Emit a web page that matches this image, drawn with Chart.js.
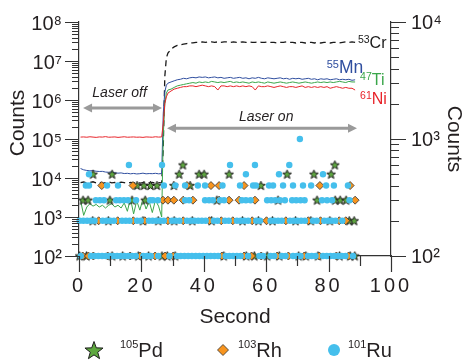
<!DOCTYPE html>
<html>
<head>
<meta charset="utf-8">
<title>LA-ICP-MS time-resolved signal</title>
<script src="https://cdn.jsdelivr.net/npm/chart.js@4.4.1/dist/chart.umd.min.js"></script>
<style>
html, body { margin: 0; padding: 0; background: #fff; }
canvas { display: block; }
</style>
</head>
<body>
<canvas id="chart" width="464" height="360"></canvas>
<script>
// ---- Major-element traces (left axis, counts) ----
const seconds = [
  0.5,1.5,2.5,3.5,4.5,5.5,6.5,7.5,8.5,9.5,10.5,11.5,12.5,13.5,14.5,15.5,16.5,17.5,18.5,19.5,20.5,21.5,22.5,23.5,24.5,25.5,26.5,
  27.0,27.5,28.0,28.5,
  29.5,30.5,31.5,32.5,33.5,34.5,35.5,36.5,37.5,38.5,
  39.5,40.5,41.5,42.5,43.5,44.5,45.5,46.5,47.5,48.5,
  49.5,50.5,51.5,52.5,53.5,54.5,55.5,56.5,57.5,58.5,
  59.5,60.5,61.5,62.5,63.5,64.5,65.5,66.5,67.5,68.5,
  69.5,70.5,71.5,72.5,73.5,74.5,75.5,76.5,77.5,78.5,
  79.5,80.5,81.5,82.5,83.5,84.5,85.5,86.5,87.5,88.5
];

const cr53 = [
  7600,7900,7400,7700,8000,7500,7800,7300,7600,7900,7500,7700,7400,7800,7600,7300,7700,7500,7900,7400,7600,7800,7500,7700,7400,7600,7500,
  6e4,4e6,1.2e7,1.6e7,
  2.0e7,2.3e7,2.5e7,2.6e7,2.7e7,2.8e7,2.9e7,2.9e7,3.0e7,3.0e7,
  3.1e7,3.0e7,3.1e7,3.1e7,3.0e7,3.1e7,3.0e7,3.1e7,3.1e7,3.0e7,
  3.1e7,3.0e7,3.0e7,3.1e7,3.0e7,3.1e7,3.0e7,3.0e7,3.1e7,3.0e7,
  3.0e7,3.1e7,3.0e7,3.0e7,2.9e7,3.0e7,3.0e7,3.1e7,3.0e7,3.0e7,
  2.9e7,3.0e7,3.0e7,2.9e7,3.0e7,3.0e7,2.9e7,3.0e7,2.9e7,3.0e7,
  3.0e7,2.9e7,3.0e7,3.0e7,2.9e7,3.0e7,3.1e7,3.0e7,3.1e7,3.0e7
];

const mn55 = [
  17500,16200,15600,15300,15400,14900,14700,14800,14200,14000,14300,13600,13300,13500,13000,13200,12800,13100,12700,12900,13300,12800,13000,12900,13200,12800,13000,
  4.5e5,1.6e6,2.4e6,2.7e6,
  2.9e6,3.1e6,3.3e6,3.4e6,3.6e6,3.5e6,3.7e6,3.8e6,3.7e6,3.9e6,
  3.8e6,3.9e6,3.7e6,3.8e6,3.9e6,3.7e6,3.8e6,3.6e6,3.7e6,3.8e6,
  3.6e6,3.7e6,3.8e6,3.6e6,3.7e6,3.5e6,3.7e6,3.6e6,3.8e6,3.6e6,
  3.5e6,3.7e6,3.6e6,3.5e6,3.6e6,3.7e6,3.5e6,3.6e6,3.4e6,3.6e6,
  3.5e6,3.6e6,3.4e6,3.5e6,3.6e6,3.4e6,3.5e6,3.3e6,3.5e6,3.4e6,
  3.5e6,3.3e6,3.4e6,3.5e6,3.3e6,3.4e6,3.3e6,3.4e6,3.2e6,3.3e6
];

const ti47 = [
  2700,1100,1800,2200,1900,2100,1800,2000,1700,2000,2200,1800,2000,1700,2300,1400,3000,1200,2600,1500,2900,1600,2500,1300,2700,1900,1000,
  1.2e5,8e5,1.5e6,1.8e6,
  1.9e6,2.1e6,2.3e6,2.4e6,2.5e6,2.6e6,2.7e6,2.8e6,2.7e6,2.9e6,
  2.8e6,2.9e6,2.8e6,3.0e6,2.9e6,2.8e6,2.9e6,2.8e6,2.9e6,3.0e6,
  2.8e6,2.9e6,2.8e6,2.9e6,2.8e6,2.7e6,2.9e6,2.8e6,2.9e6,2.8e6,
  2.7e6,2.9e6,2.8e6,2.7e6,2.8e6,2.9e6,2.8e6,2.7e6,2.8e6,2.9e6,
  2.8e6,2.7e6,2.8e6,2.9e6,2.8e6,2.7e6,2.8e6,2.9e6,2.8e6,2.9e6,
  2.8e6,2.9e6,2.8e6,2.9e6,3.0e6,2.9e6,2.8e6,3.0e6,2.9e6,2.9e6
];

const ni61 = [
  112000,113000,111000,114000,112000,110000,113000,112000,115000,111000,112000,113000,110000,112000,114000,111000,112000,113000,111000,112000,110000,113000,112000,111000,114000,112000,113000,
  2.5e5,8e5,1.2e6,1.5e6,
  1.7e6,1.9e6,2.0e6,2.1e6,2.2e6,2.2e6,2.3e6,2.3e6,2.2e6,2.3e6,
  2.4e6,2.3e6,2.2e6,2.3e6,2.2e6,1.8e6,2.3e6,2.3e6,2.2e6,2.3e6,
  2.2e6,2.3e6,2.2e6,2.3e6,2.2e6,2.3e6,2.2e6,1.8e6,2.3e6,2.2e6,
  2.2e6,2.3e6,2.2e6,2.1e6,2.2e6,2.3e6,2.2e6,2.1e6,2.2e6,2.2e6,
  2.1e6,2.2e6,2.3e6,2.1e6,2.2e6,2.1e6,2.2e6,2.1e6,2.2e6,2.1e6,
  2.2e6,2.0e6,2.1e6,2.2e6,2.1e6,2.0e6,2.1e6,2.0e6,2.0e6,1.8e6
];

// ---- Trace PGE isotopes (right axis): acquisition times (s) at each count level ----
const ru100 = [0.6,3.8,5.0,6.2,7.4,8.6,9.8,11.0,12.2,13.4,14.6,15.8,17.0,18.2,20.6,21.8,23.0,25.4,29.0,31.4,32.6,33.8,35.0,36.2,37.4,38.6,39.8,41.0,42.2,43.4,44.6,47.0,48.2,49.4,50.6,51.8,54.2,57.8,59.0,61.4,62.6,65.0,66.2,68.6,69.8,71.0,73.4,74.6,75.8,78.2,79.4,80.6,81.8,83.0,84.2,85.4,87.8];
const rh100 = [1.2,3.0,4.6,9.2,16.4,19.6,24.4,27.6,30.2,45.8,52.9,55.3,58.4,63.5,67.1,72.2,77.0,82.5,86.4];
const pd100 = [0.2,2.4,10.6,14.0,19.0,22.3,26.6,28.3,30.8,46.4,53.6,56.2,60.3,64.2,70.4,72.7,76.6,83.5,86.9,88.4];

const ru200 = [0.2,1.4,2.6,3.8,5.0,7.6,8.8,10.0,11.2,13.8,15.0,16.2,18.6,19.8,22.4,23.6,24.8,26.0,27.2,29.8,31.0,32.2,34.6,35.8,37.0,38.2,39.4,40.6,43.2,44.4,46.8,48.0,50.6,51.8,53.0,54.2,56.8,58.0,61.4,62.6,63.8,65.0,67.6,68.8,70.0,71.2,72.4,75.0,76.2,78.6,79.8,81.0,82.2,84.4];
const rh200 = [6.3,12.4,17.4,21.1,28.5,33.4,41.8,45.6,49.3,55.5,60.1,66.3,73.5,77.4,83.4,85.5];
const pd200 = [4.4,9.4,20.5,25.4,30.5,36.3,42.5,52.4,57.5,62.0,69.4,74.3,80.4,86.6,88.2];

const ru300 = [5.4,6.7,8.0,11.9,13.1,14.4,15.7,18.3,22.8,23.7,25.3,34.0,35.3,40.4,41.7,42.9,45.2,46.5,52.2,53.5,55.0,60.3,61.6,62.9,64.4,66.0,68.3,69.6,71.0,72.3,77.9,79.5,81.1,86.7];
const rh300 = [26.9,28.5,30.4,33.4,36.5,44.9,48.1,51.3,56.4,88.5];
const pd300 = [1.3,2.9,9.9,17.0,21.2,44.2,63.8,76.3,82.1,83.7,85.6];

const ru400 = [2.2,3.2,9.0,12.5,27.2,30.9,34.0,38.1,40.4,46.0,51.6,55.8,56.7,60.9,62.2,65.4,68.6,71.8,74.4,79.2,81.7,86.2];
const rh400 = [7.3,17.3,34.6,42.3,44.9,52.9,77.2,86.9];
const pd400 = [18.6,20.8,22.9,25.0,30.4,35.6,58.3];

const ru500 = [3.2,53.5,64.1,78.2];
const pd500 = [4.5,10.6,32.1,38.5,40.1,48.1,66.7,75.3,80.8];

const ru600 = [16.0,26.6,48.4,56.4,67.4];
const pd600 = [33.3,82.0];

const ru1000 = [70.8];

// tick values
const xTickValues = [0, 20, 40, 60, 80, 100];
const leftTickValues = [1e2, 1e3, 1e4, 1e5, 1e6, 1e7, 1e8];
const rightTickValues = [1e2, 1e3, 1e4];

// ---- helpers ----
const trace = (vals) => seconds.map((t, i) => ({x: t, y: vals[i]}));
const level = (times, counts) => times.map(t => ({x: t, y: counts}));

const AXIS = '#333';
const INK = '#231f20';
const C_CR = '#1a1a1a', C_MN = '#2f4e9f', C_TI = '#3aa64a', C_NI = '#e8252b';
const C_PD = '#5ea83f', C_RH = '#f7941e', C_RU = '#45bfec';

const SUP = '⁰¹²³⁴⁵⁶⁷⁸⁹';
const pow10Label = v => '10' + String(Math.round(Math.log10(v))).split('').map(d => SUP[+d]).join('');

function starPath(ctx, cx, cy, R, r) {
  ctx.beginPath();
  for (let i = 0; i < 10; i++) {
    const a = -Math.PI / 2 + i * Math.PI / 5;
    const rad = i % 2 ? r : R;
    ctx.lineTo(cx + rad * Math.cos(a), cy + rad * Math.sin(a));
  }
  ctx.closePath();
}

// filled five-point star used as the Pd marker
const starMarker = (() => {
  const c = document.createElement('canvas');
  c.width = 11; c.height = 11;
  const g = c.getContext('2d');
  starPath(g, 5.5, 5.8, 4.7, 2.0);
  g.fillStyle = C_PD; g.fill();
  g.lineWidth = 1; g.strokeStyle = '#1e1e1e'; g.stroke();
  return c;
})();

Chart.defaults.font.family = '"Liberation Sans", Arial, Helvetica, sans-serif';
Chart.defaults.color = INK;

// vertical scales keep the plot area exactly where the layout puts it
const noEdgePadding = s => { s.paddingTop = 0; s.paddingBottom = 0; };

// x labels letter-spaced, left title raised a little
const axisTweaks = {
  id: 'axisTweaks',
  afterLayout(chart) {
    const x = chart.scales.x, y = chart.scales.y;
    if (!x._spaced) {
      const orig = x.drawLabels.bind(x);
      x.drawLabels = function (area) {
        const c = this.ctx; c.save(); c.letterSpacing = '3px'; orig(area); c.restore();
      };
      x._spaced = true;
    }
    if (!y._raised) {
      const orig = y.drawTitle.bind(y);
      y.drawTitle = function () {
        const c = this.ctx; c.save(); c.translate(0, -16); orig(); c.restore();
      };
      y._raised = true;
    }
  }
};

// major + minor tick marks on all three axes
const tickMarks = {
  id: 'tickMarks',
  afterDraw(chart) {
    const {ctx, chartArea: a, scales: {x, y, y1}} = chart;
    ctx.save();
    ctx.strokeStyle = AXIS;
    ctx.lineWidth = 1.2;
    const logTicks = (min, max) => {
      const out = [];
      for (let e = Math.round(Math.log10(min)); e < Math.round(Math.log10(max)); e++)
        for (let k = 1; k < 10; k++) out.push({v: k * Math.pow(10, e), major: k === 1});
      out.push({v: max, major: true});
      return out;
    };
    ctx.beginPath();
    logTicks(y.min, y.max).forEach(t => {
      const p = Math.round(y.getPixelForValue(t.v)) + 0.5;
      ctx.moveTo(a.left - (t.major ? 14 : 7), p); ctx.lineTo(a.left, p);
    });
    logTicks(y1.min, y1.max).forEach(t => {
      const p = Math.round(y1.getPixelForValue(t.v)) + 0.5;
      ctx.moveTo(a.right, p); ctx.lineTo(a.right + (t.major ? 15 : 8), p);
    });
    for (let t = 0; t <= 100; t += 10) {
      const p = Math.round(x.getPixelForValue(t)) + 0.5;
      ctx.moveTo(p, a.bottom); ctx.lineTo(p, a.bottom + (t % 20 === 0 ? 16 : 10));
    }
    ctx.stroke();
    ctx.restore();
  }
};

function supText(ctx, sup, main, x, base, color, mainSize, supSize, rise) {
  ctx.fillStyle = color;
  ctx.textAlign = 'left';
  ctx.textBaseline = 'alphabetic';
  ctx.font = supSize + 'px "Liberation Sans", Arial, sans-serif';
  ctx.fillText(sup, x, base - rise);
  const w = ctx.measureText(sup).width;
  ctx.font = mainSize + 'px "Liberation Sans", Arial, sans-serif';
  ctx.fillText(main, x + w, base);
}

function doubleArrow(ctx, x1, x2, yy) {
  const head = 9, half = 4.5;
  ctx.save();
  ctx.strokeStyle = '#9a9a9a';
  ctx.fillStyle = '#9a9a9a';
  ctx.lineWidth = 3;
  ctx.beginPath(); ctx.moveTo(x1 + head - 1, yy); ctx.lineTo(x2 - head + 1, yy); ctx.stroke();
  ctx.beginPath(); ctx.moveTo(x1, yy); ctx.lineTo(x1 + head, yy - half); ctx.lineTo(x1 + head, yy + half); ctx.closePath(); ctx.fill();
  ctx.beginPath(); ctx.moveTo(x2, yy); ctx.lineTo(x2 - head, yy - half); ctx.lineTo(x2 - head, yy + half); ctx.closePath(); ctx.fill();
  ctx.restore();
}

// laser-off / laser-on spans and isotope labels
const annotations = {
  id: 'annotations',
  afterDatasetsDraw(chart) {
    const {ctx, scales: {x, y}} = chart;
    ctx.save();
    doubleArrow(ctx, x.getPixelForValue(1.3), x.getPixelForValue(26.6), y.getPixelForValue(6.2e5));
    doubleArrow(ctx, x.getPixelForValue(28.2), x.getPixelForValue(89.1), y.getPixelForValue(1.9e5));
    ctx.fillStyle = INK;
    ctx.font = 'italic 14px "Liberation Sans", Arial, sans-serif';
    ctx.textAlign = 'center';
    ctx.textBaseline = 'alphabetic';
    ctx.fillText('Laser off', x.getPixelForValue(13.0), y.getPixelForValue(1.2e6));
    ctx.fillText('Laser on', x.getPixelForValue(60.0), y.getPixelForValue(2.9e5));

    supText(ctx, '53', 'Cr', x.getPixelForValue(89.4), y.getPixelForValue(2.15e7), C_CR, 16, 10.5, 5);
    supText(ctx, '55', 'Mn', x.getPixelForValue(79.4), y.getPixelForValue(4.9e6), C_MN, 17.5, 11, 5);
    supText(ctx, '47', 'Ti', x.getPixelForValue(90.1), y.getPixelForValue(2.4e6), C_TI, 16, 10.5, 5);
    supText(ctx, '61', 'Ni', x.getPixelForValue(90.1), y.getPixelForValue(7.9e5), C_NI, 16, 10.5, 5);
    ctx.restore();
  }
};

// legend for the three trace isotopes
const isoLegend = {
  id: 'isoLegend',
  afterDraw(chart) {
    const ctx = chart.ctx;
    ctx.save();
    starPath(ctx, 94, 351, 9.5, 3.9);
    ctx.fillStyle = C_PD; ctx.fill();
    ctx.lineWidth = 1; ctx.strokeStyle = '#1e1e1e'; ctx.stroke();

    ctx.beginPath();
    ctx.moveTo(223, 344.5); ctx.lineTo(228.5, 350); ctx.lineTo(223, 355.5); ctx.lineTo(217.5, 350); ctx.closePath();
    ctx.fillStyle = C_RH; ctx.fill(); ctx.strokeStyle = '#333'; ctx.lineWidth = 0.8; ctx.stroke();

    ctx.beginPath(); ctx.arc(334, 350, 6, 0, Math.PI * 2);
    ctx.fillStyle = C_RU; ctx.fill();

    supText(ctx, '105', 'Pd', 120, 357, INK, 20, 11, 9.5);
    supText(ctx, '103', 'Rh', 238, 357, INK, 20, 11, 9.5);
    supText(ctx, '101', 'Ru', 348, 357, INK, 20, 11, 9.5);
    ctx.restore();
  }
};

const lineSet = (label, vals, color, extra) => Object.assign({
  type: 'line', label, data: trace(vals), yAxisID: 'y',
  borderColor: color, borderWidth: 1, pointRadius: 0, tension: 0, fill: false
}, extra || {});

new Chart(document.getElementById('chart'), {
  type: 'scatter',
  data: {
    datasets: [
      {label: '¹⁰¹Ru', yAxisID: 'y1', order: 1, clip: false,
       data: [...level(ru100, 100), ...level(ru200, 200), ...level(ru300, 300), ...level(ru400, 400),
              ...level(ru500, 500), ...level(ru600, 600), ...level(ru1000, 1000)],
       pointStyle: 'circle', pointRadius: 3.2, backgroundColor: C_RU, borderWidth: 0},
      {label: '¹⁰³Rh', yAxisID: 'y1', order: 2, clip: false,
       data: [...level(rh100, 100), ...level(rh200, 200), ...level(rh300, 300), ...level(rh400, 400)],
       pointStyle: 'rectRot', pointRadius: 4, backgroundColor: C_RH, borderColor: '#333', borderWidth: 0.8},
      {label: '¹⁰⁵Pd', yAxisID: 'y1', order: 3, clip: false,
       data: [...level(pd100, 100), ...level(pd200, 200), ...level(pd300, 300), ...level(pd400, 400),
              ...level(pd500, 500), ...level(pd600, 600)],
       pointStyle: starMarker, pointRadius: 5},
      lineSet('⁶¹Ni', ni61, C_NI, {order: 4}),
      lineSet('⁴⁷Ti', ti47, C_TI, {order: 5}),
      lineSet('⁵⁵Mn', mn55, C_MN, {order: 6}),
      lineSet('⁵³Cr', cr53, C_CR, {order: 7, borderDash: [6, 4], borderWidth: 1.3})
    ]
  },
  options: {
    responsive: false,
    animation: false,
    devicePixelRatio: 1,
    events: [],
    layout: {padding: {top: 22, left: 0, right: 0, bottom: 0}},
    plugins: {legend: {display: false}, tooltip: {enabled: false}},
    scales: {
      x: {
        type: 'linear', position: 'bottom', min: 0, max: 100,
        afterBuildTicks: s => { s.ticks = xTickValues.map(v => ({value: v})); },
        afterFit: s => { s.height = 104; s.paddingLeft = 0; s.paddingRight = 0; },
        grid: {display: false, drawTicks: false},
        border: {display: true, color: AXIS, width: 1.2},
        ticks: {font: {size: 20}, padding: 18, maxRotation: 0, autoSkip: false, color: INK},
        title: {display: true, text: 'Second', color: INK, font: {size: 21, lineHeight: 1}, padding: {top: 0, bottom: 32}}
      },
      y: {
        type: 'logarithmic', position: 'left', min: 1e2, max: 1e8,
        afterBuildTicks: s => { s.ticks = leftTickValues.map(v => ({value: v})); },
        afterFit: s => { s.width = 79; noEdgePadding(s); },
        grid: {display: false, drawTicks: false},
        border: {display: true, color: AXIS, width: 1.2},
        ticks: {font: {size: 20}, padding: 17, labelOffset: 2, autoSkip: false, color: INK, callback: v => pow10Label(v)},
        title: {display: true, text: 'Counts', color: INK, font: {size: 21, lineHeight: 1}, padding: {top: 8, bottom: 0}}
      },
      y1: {
        type: 'logarithmic', position: 'right', min: 1e2, max: 1e4,
        afterBuildTicks: s => { s.ticks = rightTickValues.map(v => ({value: v})); },
        afterFit: s => { s.width = 73; noEdgePadding(s); },
        grid: {display: false, drawTicks: false},
        border: {display: true, color: AXIS, width: 1.2},
        ticks: {font: {size: 20}, padding: 20, labelOffset: 1, autoSkip: false, color: INK, callback: v => pow10Label(v)},
        title: {display: true, text: 'Counts', color: INK, font: {size: 21, lineHeight: 1}, padding: {top: 0, bottom: 0}}
      }
    }
  },
  plugins: [axisTweaks, tickMarks, annotations, isoLegend]
});
</script>
</body>
</html>
